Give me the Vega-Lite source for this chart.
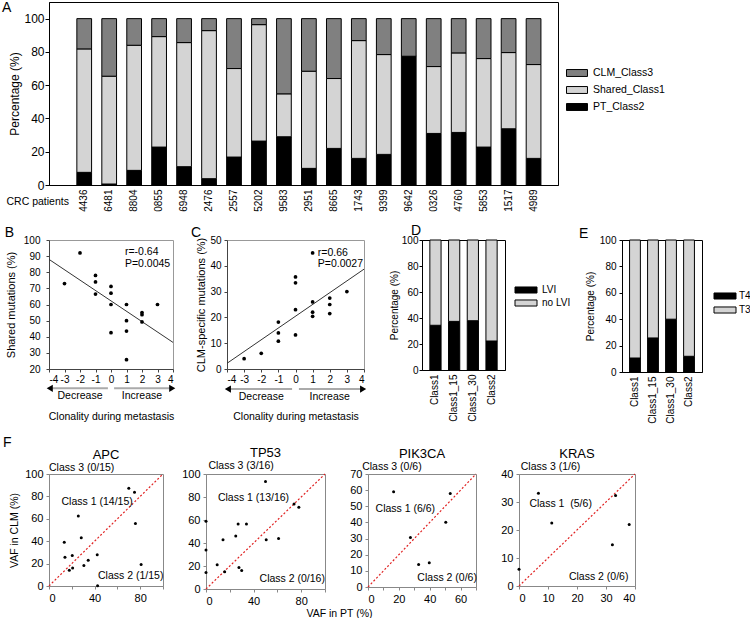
{
  "$schema": "https://vega.github.io/schema/vega-lite/v6.json",
  "padding": {"left": 1, "top": 0, "right": 0, "bottom": 0},
  "background": "white",
  "config": {
    "font": "Liberation Sans",
    "view": {"stroke": "black"},
    "axis": {"grid": false, "labelFont": "Liberation Sans", "titleFont": "Liberation Sans", "labelColor": "black", "titleColor": "black", "titleFontWeight": "normal", "labelFontSize": 10, "titleFontSize": 11, "tickSize": 3, "domainColor": "black", "tickColor": "black", "labelPadding": 2},
    "title": {"font": "Liberation Sans", "fontWeight": "normal", "fontSize": 14, "color": "black"},
    "legend": {"labelFont": "Liberation Sans", "labelColor": "black"},
    "text": {"font": "Liberation Sans", "color": "black"}
  },
  "columns": 1,
  "align": "none",
  "spacing": 11,
  "resolve": {"scale": {"color": "independent"}},
  "concat": [
    {
      "width": 509,
      "height": 183,
      "title": {"text": "A", "anchor": "start", "frame": "group", "offset": -13, "dx": -47},
      "data": {"values": [
        {"patient": "4436", "PT_Class2": 7.6, "Shared_Class1": 74.2, "CLM_Class3": 18.2},
        {"patient": "6481", "PT_Class2": 0.6, "Shared_Class1": 64.8, "CLM_Class3": 34.6},
        {"patient": "8804", "PT_Class2": 8.8, "Shared_Class1": 75.2, "CLM_Class3": 16},
        {"patient": "0855", "PT_Class2": 22.8, "Shared_Class1": 66.4, "CLM_Class3": 10.8},
        {"patient": "6948", "PT_Class2": 11, "Shared_Class1": 74.6, "CLM_Class3": 14.4},
        {"patient": "2476", "PT_Class2": 3.8, "Shared_Class1": 89, "CLM_Class3": 7.2},
        {"patient": "2557", "PT_Class2": 16.8, "Shared_Class1": 53.2, "CLM_Class3": 30},
        {"patient": "5202", "PT_Class2": 26.4, "Shared_Class1": 70, "CLM_Class3": 3.6},
        {"patient": "9583", "PT_Class2": 29, "Shared_Class1": 25.8, "CLM_Class3": 45.2},
        {"patient": "2951", "PT_Class2": 10, "Shared_Class1": 58.4, "CLM_Class3": 31.6},
        {"patient": "8665", "PT_Class2": 22, "Shared_Class1": 42, "CLM_Class3": 36},
        {"patient": "1743", "PT_Class2": 16, "Shared_Class1": 70.8, "CLM_Class3": 13.2},
        {"patient": "9399", "PT_Class2": 18.4, "Shared_Class1": 60, "CLM_Class3": 21.6},
        {"patient": "9642", "PT_Class2": 77.4, "Shared_Class1": 0, "CLM_Class3": 22.6},
        {"patient": "0326", "PT_Class2": 31, "Shared_Class1": 40.2, "CLM_Class3": 28.8},
        {"patient": "4760", "PT_Class2": 31.6, "Shared_Class1": 47.8, "CLM_Class3": 20.6},
        {"patient": "5853", "PT_Class2": 22.8, "Shared_Class1": 53.2, "CLM_Class3": 24},
        {"patient": "1517", "PT_Class2": 33.8, "Shared_Class1": 45.8, "CLM_Class3": 20.4},
        {"patient": "4989", "PT_Class2": 16, "Shared_Class1": 56.4, "CLM_Class3": 27.6}
      ]},
      "transform": [
        {"fold": ["PT_Class2", "Shared_Class1", "CLM_Class3"], "as": ["cls", "pct"]},
        {"calculate": "indexof(['PT_Class2','Shared_Class1','CLM_Class3'], datum.cls)", "as": "stackKey"}
      ],
      "mark": {"type": "bar", "stroke": "black", "strokeWidth": 1},
      "encoding": {
        "x": {"field": "patient", "type": "nominal", "sort": null,
              "scale": {"paddingInner": 0.41, "paddingOuter": 0.9, "align": 0.62},
              "axis": {"title": "CRC patients", "labelAngle": -90, "ticks": false, "labelPadding": 4, "labelFontSize": 10,
                       "titleAngle": 0, "titleX": -43, "titleY": 16, "titleAlign": "left", "titleBaseline": "middle", "titleFontSize": 10.5}},
        "y": {"field": "pct", "type": "quantitative", "stack": "zero",
              "scale": {"domain": [0, 110], "nice": false},
              "axis": {"values": [0, 20, 40, 60, 80, 100], "title": "Percentage (%)", "labelFontSize": 12, "titleFontSize": 12, "tickSize": 4, "labelPadding": 1, "titlePadding": 2}},
        "color": {"field": "cls", "type": "nominal",
                  "scale": {"domain": ["CLM_Class3", "Shared_Class1", "PT_Class2"], "range": ["#808080", "#d4d4d4", "#000000"]},
                  "legend": {"title": null, "orient": "none", "legendX": 522, "legendY": 65, "symbolType": "M-2,-0.66H2V0.66H-2Z", "symbolSize": 110, "symbolStrokeColor": "black", "symbolStrokeWidth": 1, "labelFontSize": 10.5, "rowPadding": 5, "labelOffset": 10}},
        "order": {"field": "stackKey", "type": "quantitative"}
      }
    },
    {
      "spacing": 21,
      "resolve": {"scale": {"color": "independent"}},
      "hconcat": [
        {
          "spacing": 14,
          "hconcat": [
            {
              "width": 124,
              "height": 129,
              "view": {"stroke": "#999"},
              "encoding": {
                "x": {"field": "x", "type": "quantitative", "scale": {"domain": [-4, 4], "nice": false, "zero": false},
                      "axis": {"values": [-4, -3, -2, -1, 0, 1, 2, 3, 4], "labelExpr": "'' + datum.value", "title": "Clonality during metastasis", "titlePadding": 27, "titleFontSize": 10.5, "domainColor": "#444", "tickColor": "#444"}},
                "y": {"field": "y", "type": "quantitative", "scale": {"domain": [20, 100], "nice": false, "zero": false},
                      "axis": {"values": [20, 30, 40, 50, 60, 70, 80, 90, 100], "title": "Shared mutations (%)", "titleFontSize": 11, "labelPadding": 6, "titlePadding": 7, "domainColor": "#444", "tickColor": "#444"}}
              },
              "layer": [
                {"data": {"values": [{"x": -6.85, "y": 104.3, "t": "B"}]},
                 "mark": {"type": "text", "align": "left", "baseline": "middle", "fontSize": 14}, "encoding": {"text": {"field": "t"}}},
                {"data": {"values": [{"x": -4, "y": 88}, {"x": 4, "y": 36.5}]}, "mark": {"type": "line", "color": "#333", "strokeWidth": 1}},
                {"data": {"values": [
                  {"x": -3, "y": 73}, {"x": -2, "y": 92}, {"x": -1, "y": 78}, {"x": -1, "y": 74}, {"x": -1, "y": 66.5},
                  {"x": 0, "y": 71.2}, {"x": 0, "y": 67}, {"x": 0, "y": 60}, {"x": 0, "y": 42.5},
                  {"x": 1, "y": 60}, {"x": 1, "y": 50}, {"x": 1, "y": 43.5}, {"x": 1, "y": 25.8},
                  {"x": 2, "y": 55}, {"x": 2, "y": 53.7}, {"x": 2, "y": 49.2}, {"x": 3, "y": 60}
                ]}, "mark": {"type": "circle", "color": "black", "size": 14, "opacity": 1}},
                {"data": {"values": [{"x": 0.9, "y": 92.8, "t": "r=-0.64"}, {"x": 0.9, "y": 85.1, "t": "P=0.0045"}]},
                 "mark": {"type": "text", "align": "left", "baseline": "middle", "fontSize": 10.5}, "encoding": {"text": {"field": "t"}}},
                {"data": {"values": [{"x": -3.8, "x2": -0.2, "y": 8}, {"x": 0.2, "x2": 3.8, "y": 8}]},
                 "mark": {"type": "rule", "color": "#aaa", "strokeWidth": 2}, "encoding": {"x2": {"field": "x2"}}},
                {"data": {"values": [{"x": -3.95, "y": 8}]}, "mark": {"type": "point", "shape": "triangle-left", "filled": true, "color": "black", "size": 50, "opacity": 1}},
                {"data": {"values": [{"x": 3.95, "y": 8}]}, "mark": {"type": "point", "shape": "triangle-right", "filled": true, "color": "black", "size": 50, "opacity": 1}},
                {"data": {"values": [{"x": -2, "y": 3.3, "t": "Decrease"}, {"x": 2, "y": 3.3, "t": "Increase"}]},
                 "mark": {"type": "text", "baseline": "middle", "fontSize": 10.5}, "encoding": {"text": {"field": "t"}}}
              ]
            },
            {
              "width": 137,
              "height": 129,
              "view": {"stroke": "#999"},
              "encoding": {
                "x": {"field": "x", "type": "quantitative", "scale": {"domain": [-4, 4], "nice": false, "zero": false},
                      "axis": {"values": [-4, -3, -2, -1, 0, 1, 2, 3, 4], "labelExpr": "'' + datum.value", "title": "Clonality during metastasis", "titlePadding": 27, "titleFontSize": 10.5, "domainColor": "#444", "tickColor": "#444"}},
                "y": {"field": "y", "type": "quantitative", "scale": {"domain": [0, 50], "nice": false},
                      "axis": {"values": [0, 10, 20, 30, 40, 50], "title": "CLM-specific mutations (%)", "titleFontSize": 11, "labelPadding": 3, "titlePadding": 3, "domainColor": "#444", "tickColor": "#444"}}
              },
              "layer": [
                {"data": {"values": [{"x": -6.1, "y": 52.7, "t": "C"}]},
                 "mark": {"type": "text", "align": "left", "baseline": "middle", "fontSize": 14}, "encoding": {"text": {"field": "t"}}},
                {"data": {"values": [{"x": -4, "y": 2.2}, {"x": 4, "y": 38.7}]}, "mark": {"type": "line", "color": "#333", "strokeWidth": 1}},
                {"data": {"values": [
                  {"x": -3, "y": 4}, {"x": -2, "y": 6.1}, {"x": -1, "y": 18.2}, {"x": -1, "y": 14}, {"x": -1, "y": 10.8},
                  {"x": 0, "y": 35.7}, {"x": 0, "y": 33.4}, {"x": 0, "y": 23}, {"x": 0, "y": 13.2},
                  {"x": 1, "y": 45}, {"x": 1, "y": 26}, {"x": 1, "y": 22}, {"x": 1, "y": 20.4},
                  {"x": 2, "y": 27.5}, {"x": 2, "y": 25}, {"x": 2, "y": 21.5}, {"x": 3, "y": 30}
                ]}, "mark": {"type": "circle", "color": "black", "size": 14, "opacity": 1}},
                {"data": {"values": [{"x": 1.3, "y": 45.1, "t": "r=0.66"}, {"x": 1.3, "y": 40.8, "t": "P=0.0027"}]},
                 "mark": {"type": "text", "align": "left", "baseline": "middle", "fontSize": 10.5}, "encoding": {"text": {"field": "t"}}},
                {"data": {"values": [{"x": -3.8, "x2": -0.2, "y": -7.8}, {"x": 0.2, "x2": 3.8, "y": -7.8}]},
                 "mark": {"type": "rule", "color": "#aaa", "strokeWidth": 2}, "encoding": {"x2": {"field": "x2"}}},
                {"data": {"values": [{"x": -3.95, "y": -7.8}]}, "mark": {"type": "point", "shape": "triangle-left", "filled": true, "color": "black", "size": 50, "opacity": 1}},
                {"data": {"values": [{"x": 3.95, "y": -7.8}]}, "mark": {"type": "point", "shape": "triangle-right", "filled": true, "color": "black", "size": 50, "opacity": 1}},
                {"data": {"values": [{"x": -2, "y": -10.7, "t": "Decrease"}, {"x": 2, "y": -10.7, "t": "Increase"}]},
                 "mark": {"type": "text", "baseline": "middle", "fontSize": 10.5}, "encoding": {"text": {"field": "t"}}}
              ]
            }
          ]
        },
        {
          "spacing": 6,
          "resolve": {"scale": {"color": "independent"}},
          "hconcat": [
            {
              "width": 83,
              "height": 130,
              "title": {"text": "D", "anchor": "start", "frame": "group", "offset": -3, "dx": -11},
              "data": {"values": [
                {"group": "Class1", "LVI": 34.4, "no LVI": 65.6},
                {"group": "Class1_15", "LVI": 37.4, "no LVI": 62.6},
                {"group": "Class1_30", "LVI": 37.9, "no LVI": 62.1},
                {"group": "Class2", "LVI": 22.3, "no LVI": 77.7}
              ]},
              "transform": [
                {"fold": ["LVI", "no LVI"], "as": ["status", "pct"]},
                {"calculate": "indexof(['LVI','no LVI'], datum.status)", "as": "stackKey"}
              ],
              "mark": {"type": "bar", "stroke": "black", "strokeWidth": 1},
              "encoding": {
                "x": {"field": "group", "type": "nominal", "sort": null, "scale": {"paddingInner": 0.4, "paddingOuter": 0.42},
                      "axis": {"title": null, "labelAngle": -90, "ticks": false, "labelPadding": 4, "labelFontSize": 10}},
                "y": {"field": "pct", "type": "quantitative", "stack": "zero", "scale": {"domain": [0, 100], "nice": false},
                      "axis": {"values": [0, 20, 40, 60, 80, 100], "title": "Percentage (%)", "titleFontSize": 10, "labelPadding": 1, "titlePadding": 2}},
                "color": {"field": "status", "type": "nominal",
                          "scale": {"domain": ["LVI", "no LVI"], "range": ["#000000", "#d4d4d4"]},
                          "legend": {"title": null, "orient": "none", "legendX": 98, "legendY": 44, "symbolType": "M-2,-0.55H2V0.55H-2Z", "symbolSize": 121, "symbolStrokeColor": "black", "symbolStrokeWidth": 1, "labelFontSize": 10, "rowPadding": 1, "labelOffset": 10}},
                "order": {"field": "stackKey", "type": "quantitative"}
              }
            },
            {
              "width": 80,
              "height": 132,
              "title": {"text": "E", "anchor": "start", "frame": "group", "offset": -6, "dx": -43},
              "data": {"values": [
                {"group": "Class1", "T4": 10.6, "T3": 89.4},
                {"group": "Class1_15", "T4": 25.8, "T3": 74.2},
                {"group": "Class1_30", "T4": 40, "T3": 60},
                {"group": "Class2", "T4": 11.9, "T3": 88.1}
              ]},
              "transform": [
                {"fold": ["T4", "T3"], "as": ["stage", "pct"]},
                {"calculate": "indexof(['T4','T3'], datum.stage)", "as": "stackKey"}
              ],
              "mark": {"type": "bar", "stroke": "black", "strokeWidth": 1},
              "encoding": {
                "x": {"field": "group", "type": "nominal", "sort": null, "scale": {"paddingInner": 0.4, "paddingOuter": 0.42},
                      "axis": {"title": null, "labelAngle": -90, "ticks": false, "labelPadding": 4, "labelFontSize": 10}},
                "y": {"field": "pct", "type": "quantitative", "stack": "zero", "scale": {"domain": [0, 100], "nice": false},
                      "axis": {"values": [0, 20, 40, 60, 80, 100], "title": "Percentage (%)", "titleFontSize": 10, "labelPadding": 3, "titlePadding": 4}},
                "color": {"field": "stage", "type": "nominal",
                          "scale": {"domain": ["T4", "T3"], "range": ["#000000", "#d4d4d4"]},
                          "legend": {"title": null, "orient": "none", "legendX": 97, "legendY": 50, "symbolType": "M-2,-0.55H2V0.55H-2Z", "symbolSize": 121, "symbolStrokeColor": "black", "symbolStrokeWidth": 1, "labelFontSize": 10, "rowPadding": 2, "labelOffset": 8}},
                "order": {"field": "stackKey", "type": "quantitative"}
              }
            }
          ]
        }
      ]
    },
    {
      "bounds": "flush",
      "spacing": 43,
      "title": {"text": "F", "anchor": "start", "frame": "group", "offset": -3, "dx": -46},
      "hconcat": [
        {
          "width": 114,
          "height": 112,
          "view": {"stroke": "#888"},
          "title": {"text": "APC", "anchor": "middle", "frame": "group", "offset": 1, "fontSize": 13},
          "encoding": {
            "x": {"field": "x", "type": "quantitative", "scale": {"domain": [0, 100], "nice": false},
                  "axis": {"values": [0, 20, 40, 60, 80, 100], "title": null, "labelFontSize": 11, "labelPadding": 3, "domainColor": "#888", "tickColor": "#888"}},
            "y": {"field": "y", "type": "quantitative", "scale": {"domain": [0, 100], "nice": false},
                  "axis": {"values": [0, 20, 40, 60, 80, 100], "title": "VAF in CLM (%)", "titleFontSize": 10.5, "labelFontSize": 11, "labelPadding": 3, "titlePadding": 5, "domainColor": "#888", "tickColor": "#888"}}
          },
          "layer": [
            {"data": {"values": [{"x": 0, "y": 0}, {"x": 100, "y": 100}]}, "mark": {"type": "line", "color": "#e02020", "strokeWidth": 1.2, "strokeDash": [2, 2]}},
            {"data": {"values": [
              {"x": 70, "y": 87.2}, {"x": 75, "y": 83.6}, {"x": 75.8, "y": 55.8}, {"x": 80.8, "y": 19.1}, {"x": 25.7, "y": 62.4},
              {"x": 28.3, "y": 43}, {"x": 13.4, "y": 39.1}, {"x": 14, "y": 25.7}, {"x": 20.4, "y": 27.2}, {"x": 17.8, "y": 14},
              {"x": 20.7, "y": 16.1}, {"x": 30.6, "y": 18.2}, {"x": 34.4, "y": 23}, {"x": 42.3, "y": 28}, {"x": 42.6, "y": 0.3}
            ]}, "mark": {"type": "circle", "color": "black", "size": 9, "opacity": 1}},
            {"data": {"values": [
              {"x": 0, "y": 105.6, "t": "Class 3 (0/15)"},
              {"x": 11, "y": 75, "t": "Class 1 (14/15)"},
              {"x": 43, "y": 9, "t": "Class 2 (1/15)"}
            ]}, "mark": {"type": "text", "align": "left", "baseline": "middle", "fontSize": 10.5}, "encoding": {"text": {"field": "t"}}}
          ]
        },
        {
          "width": 119,
          "height": 115,
          "view": {"stroke": "#888"},
          "title": {"text": "TP53", "anchor": "middle", "frame": "group", "offset": 1, "fontSize": 13},
          "encoding": {
            "x": {"field": "x", "type": "quantitative", "scale": {"domain": [0, 100], "nice": false},
                  "axis": {"values": [0, 20, 40, 60, 80, 100], "title": "VAF in PT (%)", "titleX": 133, "titleFontSize": 10.5, "titlePadding": 2, "labelFontSize": 11, "labelPadding": 3, "domainColor": "#888", "tickColor": "#888"}},
            "y": {"field": "y", "type": "quantitative", "scale": {"domain": [0, 100], "nice": false},
                  "axis": {"values": [0, 20, 40, 60, 80, 100], "title": null, "labelFontSize": 11, "labelPadding": 3, "domainColor": "#888", "tickColor": "#888"}}
          },
          "layer": [
            {"data": {"values": [{"x": 0, "y": 0}, {"x": 100, "y": 100}]}, "mark": {"type": "line", "color": "#e02020", "strokeWidth": 1.2, "strokeDash": [2, 2]}},
            {"data": {"values": [
              {"x": 50, "y": 93.4}, {"x": 74, "y": 74}, {"x": 78, "y": 71}, {"x": 0, "y": 59}, {"x": 27, "y": 56.6},
              {"x": 34, "y": 56.6}, {"x": 25, "y": 46}, {"x": 14.3, "y": 42.8}, {"x": 50.6, "y": 42.8}, {"x": 61, "y": 44},
              {"x": 0, "y": 34}, {"x": 9.4, "y": 21}, {"x": 0, "y": 14.4}, {"x": 15.7, "y": 15}, {"x": 27.7, "y": 18.7}, {"x": 30, "y": 16}
            ]}, "mark": {"type": "circle", "color": "black", "size": 9, "opacity": 1}},
            {"data": {"values": [
              {"x": 2, "y": 106.7, "t": "Class 3 (3/16)"},
              {"x": 10, "y": 79, "t": "Class 1 (13/16)"},
              {"x": 45, "y": 8.7, "t": "Class 2 (0/16)"}
            ]}, "mark": {"type": "text", "align": "left", "baseline": "middle", "fontSize": 10.5}, "encoding": {"text": {"field": "t"}}}
          ]
        },
        {
          "width": 108,
          "height": 113,
          "view": {"stroke": "#888"},
          "title": {"text": "PIK3CA", "anchor": "middle", "frame": "group", "offset": 1, "fontSize": 13},
          "encoding": {
            "x": {"field": "x", "type": "quantitative", "scale": {"domain": [0, 70], "nice": false},
                  "axis": {"values": [0, 10, 20, 30, 40, 50, 60, 70], "title": null, "labelFontSize": 11, "labelPadding": 3, "domainColor": "#888", "tickColor": "#888"}},
            "y": {"field": "y", "type": "quantitative", "scale": {"domain": [0, 70], "nice": false},
                  "axis": {"values": [0, 10, 20, 30, 40, 50, 60, 70], "title": null, "labelFontSize": 11, "labelPadding": 3, "domainColor": "#888", "tickColor": "#888"}}
          },
          "layer": [
            {"data": {"values": [{"x": 0, "y": 0}, {"x": 70, "y": 70}]}, "mark": {"type": "line", "color": "#e02020", "strokeWidth": 1.2, "strokeDash": [2, 2]}},
            {"data": {"values": [
              {"x": 16.6, "y": 59}, {"x": 53.3, "y": 57.9}, {"x": 50.4, "y": 40.1}, {"x": 27.5, "y": 30.7}, {"x": 32.8, "y": 14}, {"x": 39.7, "y": 15}
            ]}, "mark": {"type": "circle", "color": "black", "size": 9, "opacity": 1}},
            {"data": {"values": [
              {"x": -3.8, "y": 74.6, "t": "Class 3 (0/6)"},
              {"x": 4.9, "y": 48.5, "t": "Class 1 (6/6)"},
              {"x": 32, "y": 5.8, "t": "Class 2 (0/6)"}
            ]}, "mark": {"type": "text", "align": "left", "baseline": "middle", "fontSize": 10.5}, "encoding": {"text": {"field": "t"}}}
          ]
        },
        {
          "width": 116,
          "height": 112,
          "view": {"stroke": "#888"},
          "title": {"text": "KRAS", "anchor": "middle", "frame": "group", "offset": 1, "fontSize": 13},
          "encoding": {
            "x": {"field": "x", "type": "quantitative", "scale": {"domain": [0, 40], "nice": false},
                  "axis": {"values": [0, 10, 20, 30, 40], "title": null, "labelFontSize": 11, "labelPadding": 3, "domainColor": "#888", "tickColor": "#888"}},
            "y": {"field": "y", "type": "quantitative", "scale": {"domain": [0, 40], "nice": false},
                  "axis": {"values": [0, 10, 20, 30, 40], "title": null, "labelFontSize": 11, "labelPadding": 3, "domainColor": "#888", "tickColor": "#888"}}
          },
          "layer": [
            {"data": {"values": [{"x": 0, "y": 0}, {"x": 40, "y": 40}]}, "mark": {"type": "line", "color": "#e02020", "strokeWidth": 1.2, "strokeDash": [2, 2]}},
            {"data": {"values": [
              {"x": 0, "y": 6}, {"x": 6.7, "y": 33.1}, {"x": 11.3, "y": 22.5}, {"x": 33.3, "y": 32.3}, {"x": 38, "y": 22}, {"x": 32.2, "y": 14.7}
            ]}, "mark": {"type": "circle", "color": "black", "size": 9, "opacity": 1}},
            {"data": {"values": [
              {"x": 0.6, "y": 42.4, "t": "Class 3 (1/6)"},
              {"x": 3.6, "y": 29.3, "t": "Class 1\u00a0 (5/6)"},
              {"x": 17.2, "y": 3.1, "t": "Class 2 (0/6)"}
            ]}, "mark": {"type": "text", "align": "left", "baseline": "middle", "fontSize": 10.5}, "encoding": {"text": {"field": "t"}}}
          ]
        }
      ]
    }
  ]
}
